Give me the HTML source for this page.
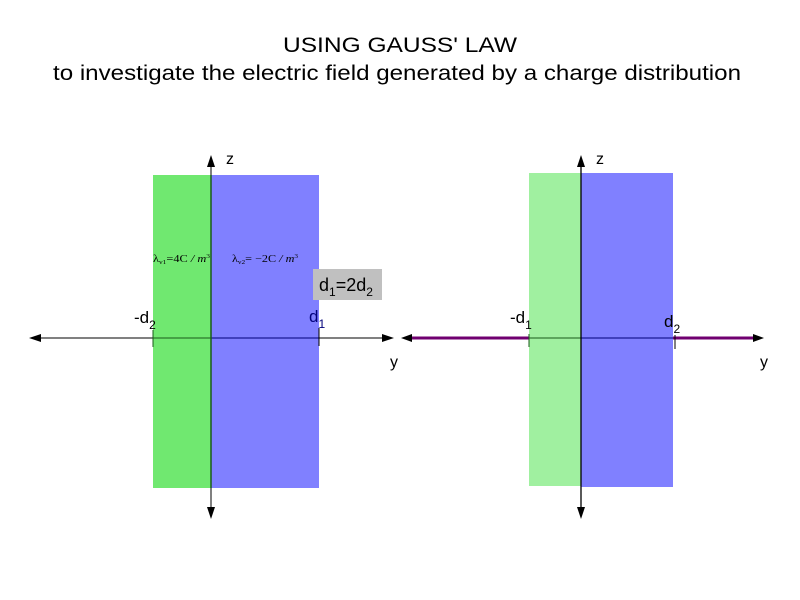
<!DOCTYPE html>
<html><head><meta charset="utf-8"><style>
html,body{margin:0;padding:0;background:#fff;}
svg{display:block;}
.t{font-family:"Liberation Sans",Arial,sans-serif;}
.s{font-family:"Liberation Serif","Times New Roman",serif;}
</style></head><body>
<svg width="800" height="600" viewBox="0 0 800 600" xmlns="http://www.w3.org/2000/svg">
<rect width="800" height="600" fill="#fff"/>
<text class="t" x="400" y="52" font-size="21" text-anchor="middle" fill="#000" textLength="234" lengthAdjust="spacingAndGlyphs">USING GAUSS' LAW</text>
<text class="t" x="397" y="80" font-size="21" text-anchor="middle" fill="#000" textLength="688" lengthAdjust="spacingAndGlyphs">to investigate the electric field generated by a charge distribution</text>

<!-- LEFT PANEL -->
<rect x="153" y="175" width="58" height="313" fill="#70e870"/>
<rect x="211" y="175" width="108" height="313" fill="#8080ff"/>
<line x1="34" y1="338" x2="153" y2="338" stroke="#000" stroke-width="1"/>
<line x1="153" y1="338" x2="211" y2="338" stroke="#1a5a1a" stroke-width="1"/>
<line x1="211" y1="338" x2="319" y2="338" stroke="#00007a" stroke-width="1"/>
<line x1="319" y1="338" x2="388" y2="338" stroke="#000" stroke-width="1"/>
<polygon points="29,338 41,334 41,342" fill="#000"/>
<polygon points="394,338 382,334 382,342" fill="#000"/>
<line x1="153" y1="330" x2="153" y2="347" stroke="#1a5a1a" stroke-width="1"/>
<line x1="319" y1="328" x2="319" y2="346" stroke="#000" stroke-width="1"/>
<line x1="211" y1="162" x2="211" y2="175" stroke="#000" stroke-width="1"/>
<line x1="211" y1="175" x2="211" y2="488" stroke="#1a5a1a" stroke-width="1.5"/>
<line x1="211" y1="488" x2="211" y2="514" stroke="#000" stroke-width="1"/>
<polygon points="211,155 207,167 215,167" fill="#000"/>
<polygon points="211,519 207,507 215,507" fill="#000"/>
<text class="t" x="226" y="164" font-size="16" fill="#000">z</text>
<text class="t" x="390" y="367" font-size="16" fill="#000">y</text>
<text class="t" x="134" y="323" font-size="17" fill="#000">-d<tspan font-size="12" dy="6">2</tspan></text>
<text class="t" x="309" y="322" font-size="17" fill="#00007a">d<tspan font-size="12" dy="6">1</tspan></text>
<text class="s" x="153" y="262" font-size="10" fill="#000" textLength="57" lengthAdjust="spacingAndGlyphs">λ<tspan font-size="6" dy="2">v1</tspan><tspan dy="-2">=4C</tspan><tspan font-style="italic"> / m</tspan><tspan font-size="6" dy="-4">3</tspan></text>
<text class="s" x="232" y="262" font-size="10" fill="#000" textLength="66" lengthAdjust="spacingAndGlyphs">λ<tspan font-size="6" dy="2">v2</tspan><tspan dy="-2">= −2C</tspan><tspan font-style="italic"> / m</tspan><tspan font-size="6" dy="-4">3</tspan></text>
<rect x="313" y="269" width="69" height="31" fill="#c0c0c0"/>
<text class="t" x="319" y="291" font-size="18" fill="#000">d<tspan font-size="12" dy="5">1</tspan><tspan dy="-5">=2d</tspan><tspan font-size="12" dy="5">2</tspan></text>

<!-- RIGHT PANEL -->
<rect x="529" y="173" width="52" height="313" fill="#a0f0a0"/>
<rect x="581" y="173" width="92" height="314" fill="#8080ff"/>
<line x1="408" y1="338" x2="529" y2="338" stroke="#700070" stroke-width="3"/>
<line x1="529" y1="338" x2="581" y2="338" stroke="#1a5a1a" stroke-width="1"/>
<line x1="581" y1="338" x2="673" y2="338" stroke="#00007a" stroke-width="1"/>
<line x1="673" y1="338" x2="758" y2="338" stroke="#700070" stroke-width="3"/>
<polygon points="401,338 412,334 412,342" fill="#000"/>
<polygon points="764,338 753,334 753,342" fill="#000"/>
<line x1="529" y1="334" x2="529" y2="347" stroke="#1a5a1a" stroke-width="1"/>
<line x1="675" y1="335" x2="675" y2="349" stroke="#000" stroke-width="1"/>
<line x1="581" y1="162" x2="581" y2="514" stroke="#000" stroke-width="1.3"/>
<polygon points="581,155 577,167 585,167" fill="#000"/>
<polygon points="581,519 577,507 585,507" fill="#000"/>
<text class="t" x="596" y="164" font-size="16" fill="#000">z</text>
<text class="t" x="760" y="367" font-size="16" fill="#000">y</text>
<text class="t" x="510" y="323" font-size="17" fill="#000">-d<tspan font-size="12" dy="6">1</tspan></text>
<text class="t" x="664" y="327" font-size="17" fill="#000">d<tspan font-size="12" dy="6">2</tspan></text>
</svg>
</body></html>
